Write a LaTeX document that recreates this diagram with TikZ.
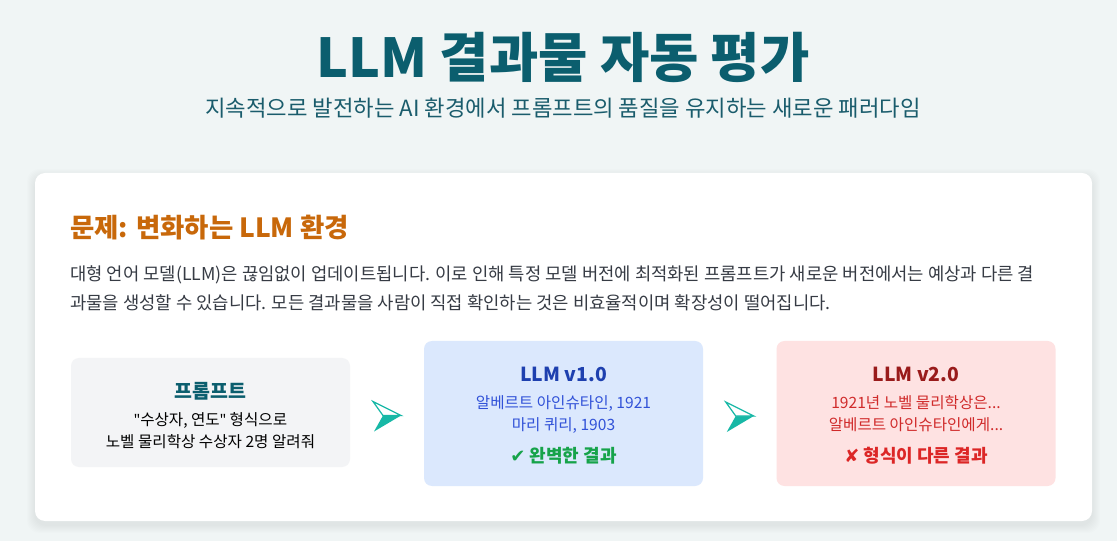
\documentclass[tikz,border=0pt]{standalone}
\usepackage{fontspec}
\setmainfont{Noto Sans CJK KR}
\newfontfamily\symfont{DejaVu Sans}
\newfontfamily\latinfont{Noto Sans}
\usepackage{xcolor}
\usetikzlibrary{positioning}

\definecolor{pagebg}{HTML}{F0F5F5}
\definecolor{titleteal}{HTML}{0B5E6E}
\definecolor{subteal}{HTML}{1A5C6C}
\definecolor{headorange}{HTML}{C8680A}
\definecolor{bodygray}{HTML}{363B44}
\definecolor{promptbg}{HTML}{F3F4F6}
\definecolor{v1bg}{HTML}{DBE8FD}
\definecolor{v1title}{HTML}{1E40AF}
\definecolor{v1text}{HTML}{3152D8}
\definecolor{okgreen}{HTML}{16A34A}
\definecolor{v2bg}{HTML}{FEE2E2}
\definecolor{v2title}{HTML}{991B1B}
\definecolor{v2text}{HTML}{D02A2A}
\definecolor{badred}{HTML}{DC2626}
\definecolor{arrowteal}{HTML}{17B8A6}

\tikzset{
pics/flowarrow/.style={code={
\fill[arrowteal] (-4,0) -- (14,0) -- (-13,16) -- cycle;
\filldraw[draw=arrowteal, fill=white, line width=0.9pt, line join=miter]
(-4,0) -- (-14,-14) -- (14,0) -- cycle;
}}
}

\begin{document}
\begin{tikzpicture}[
x=0.75pt, y=-0.75pt,
every node/.style={inner sep=0pt, align=center},
box/.style={
rounded corners=6pt,
minimum width=209.25pt,
font=\fontsize{11.7}{16.5}\selectfont
}
]

\useasboundingbox (0,0) rectangle (1117,541);
\fill[pagebg] (0,0) rectangle (1117,541);

% title
\node (title) [text=titleteal, font=\fontsize{40.2}{44}\selectfont\bfseries]
at (563,57) {LLM 결과물 자동 평가};
\node (sub) [text=subteal, font=\fontsize{16.7}{18}\selectfont]
at (563,108) {지속적으로 발전하는 AI 환경에서 프롬프트의 품질을 유지하는 새로운 패러다임};

% card with soft shadow
\foreach \i in {1,...,8}
\fill[black, opacity=0.009, rounded corners=9pt]
(35-\i,173-\i+4) rectangle (1092+\i,521+\i+4);
\fill[white, rounded corners=7.5pt] (35,173) rectangle (1092,521);

\node (head) [anchor=west, text=headorange, font=\fontsize{19.8}{22}\selectfont\bfseries]
at (70,228) {문제: 변화하는 LLM 환경};

\node (para) [anchor=north west, align=left, text=bodygray,
font=\fontsize{13.3}{21.75}\selectfont]
at (70,265) {대형 언어 모델(LLM)은 끊임없이 업데이트됩니다. 이로 인해 특정 모델 버전에 최적화된 프롬프트가 새로운 버전에서는 예상과 다른 결\\
과물을 생성할 수 있습니다. 모든 결과물을 사람이 직접 확인하는 것은 비효율적이며 확장성이 떨어집니다.};

% boxes
\node (prompt) [box, fill=promptbg, minimum height=81.75pt, text=black]
at (210.5,412.5) {{\color{titleteal}\fontsize{14.6}{16.5}\selectfont\bfseries\rule{0pt}{16.5pt}프롬프트}\\[4pt]
{\latinfont"}수상자, 연도{\latinfont"} 형식으로\\
노벨 물리학상 수상자 2명 알려줘};

\node (v1) [box, fill=v1bg, minimum height=108.75pt, text=v1text]
at (563.5,413.5) {{\color{v1title}\fontsize{14.5}{16.5}\selectfont\bfseries\rule{0pt}{14pt}LLM v1.0}\\[3.5pt]
알베르트 아인슈타인, 1921\\
마리 퀴리, 1903\\[7.5pt]
{\color{okgreen}\fontsize{13.5}{16.5}\selectfont\bfseries{\symfont ✔} 완벽한 결과}};

\node (v2) [box, fill=v2bg, minimum height=108.75pt, text=v2text]
at (916,413.5) {{\color{v2title}\fontsize{14.5}{16.5}\selectfont\bfseries\rule{0pt}{14pt}LLM v2.0}\\[3.5pt]
1921년 노벨 물리학상은...\\
알베르트 아인슈타인에게...\\[7.5pt]
{\color{badred}\fontsize{13.5}{16.5}\selectfont\bfseries{\symfont ✘} 형식이 다른 결과}};

% arrows
\path (prompt.east) -- coordinate[pos=0.5] (a1) (v1.west);
\path (v1.east) -- coordinate[pos=0.5] (a2) (v2.west);
\pic[yshift=-1.9pt] at (a1) {flowarrow};
\pic[yshift=-1.9pt] at (a2) {flowarrow};

\end{tikzpicture}
\end{document}
